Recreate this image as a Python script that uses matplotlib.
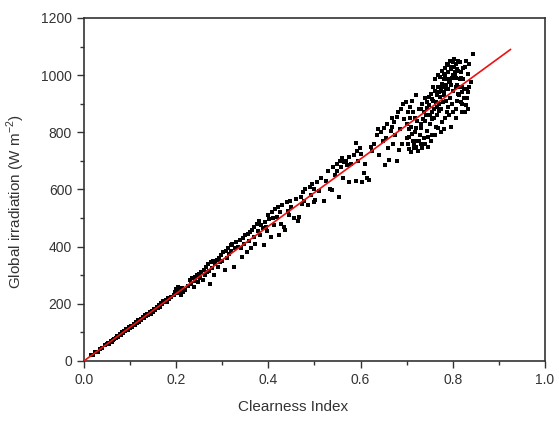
import numpy as np
import matplotlib
matplotlib.use('Agg')
import matplotlib.pyplot as plt
from matplotlib.ticker import MultipleLocator, FormatStrFormatter

plt.rcParams['font.family'] = ['Liberation Sans', 'DejaVu Sans']

# clearness index / global irradiation pairs
kt = [0.015, 0.02, 0.025, 0.03, 0.035, 0.04, 0.045, 0.05, 0.052, 0.055, 0.058, 0.06, 0.063, 0.066, 0.07, 0.072,
      0.075, 0.078, 0.08, 0.082, 0.085, 0.087, 0.09, 0.092, 0.095, 0.097, 0.1, 0.102, 0.105, 0.108, 0.11, 0.112,
      0.115, 0.118, 0.12, 0.123, 0.125, 0.128, 0.13, 0.133, 0.135, 0.138, 0.14, 0.143, 0.145, 0.148, 0.15, 0.152,
      0.155, 0.158, 0.16, 0.162, 0.165, 0.167, 0.17, 0.172, 0.175, 0.178, 0.18, 0.183, 0.185, 0.19, 0.195, 0.198,
      0.2, 0.202, 0.205, 0.208, 0.21, 0.212, 0.215,
      0.22, 0.225, 0.23, 0.232, 0.235, 0.238, 0.24, 0.242, 0.245, 0.248, 0.25, 0.252, 0.255, 0.258, 0.26, 0.262,
      0.265, 0.268, 0.27, 0.272, 0.274, 0.275, 0.278, 0.28, 0.282, 0.285, 0.288, 0.29, 0.292, 0.295, 0.298, 0.3,
      0.302, 0.305, 0.308, 0.31, 0.312, 0.315, 0.318, 0.32, 0.322, 0.325, 0.328, 0.33, 0.335, 0.338, 0.34, 0.343,
      0.345, 0.348, 0.35, 0.353, 0.355, 0.358, 0.36, 0.362, 0.365, 0.368, 0.37, 0.372, 0.375, 0.378, 0.38, 0.382,
      0.385, 0.388, 0.39, 0.392, 0.395, 0.398, 0.4,
      0.402, 0.405, 0.408, 0.41, 0.412, 0.415, 0.418, 0.42, 0.423, 0.425, 0.428, 0.43, 0.433, 0.436, 0.44, 0.443,
      0.445, 0.448, 0.45, 0.455, 0.46, 0.465, 0.467, 0.47, 0.473, 0.475, 0.478, 0.48, 0.485, 0.49, 0.492, 0.495,
      0.498, 0.5, 0.502, 0.505, 0.51, 0.515, 0.52, 0.525, 0.53, 0.533, 0.537, 0.54, 0.545, 0.548, 0.55, 0.553,
      0.555, 0.558, 0.56, 0.563, 0.565, 0.568, 0.57, 0.575, 0.58, 0.585, 0.59, 0.593, 0.595, 0.598, 0.6,
      0.575, 0.59, 0.603, 0.607, 0.61, 0.615, 0.619, 0.622,
      0.625, 0.63, 0.635, 0.638, 0.64, 0.645, 0.648, 0.65, 0.653, 0.655, 0.658, 0.66, 0.661, 0.665, 0.668, 0.669,
      0.67, 0.672, 0.675, 0.678, 0.68, 0.682, 0.684, 0.686, 0.688, 0.69, 0.692, 0.695, 0.698, 0.7, 0.702, 0.705,
      0.708, 0.71, 0.712, 0.715, 0.718, 0.72,
      0.7, 0.702, 0.705, 0.707, 0.71, 0.712, 0.714, 0.716, 0.718, 0.72, 0.722, 0.724, 0.726, 0.728, 0.73, 0.732,
      0.734, 0.736, 0.738, 0.74, 0.742, 0.744, 0.746, 0.748, 0.75, 0.752, 0.754, 0.756, 0.758, 0.76, 0.762, 0.764,
      0.766, 0.768, 0.77, 0.772, 0.774, 0.776, 0.778, 0.78, 0.781, 0.782, 0.784, 0.786, 0.788, 0.79, 0.792, 0.794,
      0.796, 0.797, 0.798, 0.8, 0.802, 0.804, 0.806, 0.808, 0.81, 0.812, 0.814, 0.816, 0.818, 0.82, 0.822, 0.824,
      0.826, 0.828, 0.83, 0.832, 0.834, 0.836, 0.84, 0.843,
      0.745, 0.755, 0.765, 0.775, 0.785, 0.795, 0.805, 0.815, 0.8, 0.79, 0.78, 0.77, 0.76, 0.75, 0.74, 0.73,
      0.72, 0.79, 0.8, 0.81, 0.82, 0.77, 0.78, 0.79, 0.8, 0.81, 0.785, 0.775, 0.765, 0.755,
      0.762, 0.768, 0.772, 0.776, 0.783, 0.787, 0.793, 0.798, 0.803, 0.807, 0.811, 0.813, 0.817, 0.819, 0.823, 0.827,
      0.829, 0.831, 0.835, 0.821, 0.808, 0.799, 0.791, 0.784, 0.777, 0.769, 0.761, 0.753, 0.747, 0.739, 0.733, 0.727,
      0.721, 0.713, 0.706, 0.731, 0.737, 0.743, 0.749, 0.757, 0.763, 0.771, 0.779, 0.789, 0.797, 0.806, 0.812, 0.818,
      0.825, 0.833]

irr = [20, 22, 30, 33, 42, 45, 55, 58, 62, 60, 70, 66, 75, 78, 82, 88,
       85, 95, 92, 100, 98, 106, 104, 112, 108, 118, 115, 122, 120, 130, 126, 135,
       132, 142, 138, 148, 144, 155, 150, 160, 156, 165, 162, 170, 166, 176, 172, 182,
       178, 188, 185, 195, 190, 203, 198, 210, 205, 215, 208, 222, 216, 225, 230, 242,
       252, 238, 258, 245, 232, 255, 240,
       250, 262, 285, 270, 290, 260, 295, 280, 300, 275, 305, 290, 310, 283, 320, 300,
       330, 310, 340, 315, 271, 345, 325, 350, 300, 338, 355, 330, 362, 345, 370, 350,
       380, 320, 385, 360, 395, 375, 405, 385, 410, 330, 395, 415, 400, 425, 395, 365,
       430, 410, 440, 380, 445, 420, 450, 395, 460, 435, 470, 410, 480, 455, 490, 440,
       475, 465, 405, 485, 470, 455, 510,
       495, 435, 520, 500, 475, 530, 505, 540, 440, 520, 480, 545, 470, 458, 555, 525,
       510, 560, 540, 500, 565, 490, 504, 575, 550, 590, 560, 600, 545, 610, 580, 620,
       555, 600, 563, 625, 595, 640, 560, 630, 665, 600, 598, 680, 650, 690, 665, 574,
       700, 680, 710, 640, 695, 700, 685, 715, 690, 720, 761, 735, 700, 745, 725,
       625, 630, 627, 656, 690, 640, 633, 749,
       735, 760, 790, 813, 720, 800, 770, 815, 685, 780, 830, 745, 702, 805, 850, 819,
       760, 835, 790, 855, 700, 870, 737, 810, 880, 760, 900, 845, 905, 780, 870, 740,
       890, 820, 910, 760, 850, 930,
       830, 760, 810, 850, 730, 795, 870, 745, 800, 770, 840, 735, 880, 790, 815, 760,
       900, 845, 780, 920, 860, 805, 750, 895, 830, 935, 870, 790, 910, 850, 945, 820,
       890, 960, 875, 925, 800, 970, 905, 985, 813, 940, 1000, 955, 870, 1010, 975, 920,
       1020, 819, 990, 945, 1030, 1000, 880, 1040, 965, 1015, 930, 1045, 990, 900, 1025, 950,
       870, 1050, 920, 883, 1005, 960, 976, 1075,
       905, 915, 930, 945, 965, 980, 1010, 985, 1000, 950, 930, 900, 880, 860, 840, 830,
       815, 890, 870, 910, 960, 960, 1005, 1035, 1045, 1020, 910, 880, 860, 845,
       985, 1000, 995, 1015, 1025, 1040, 1050, 1030, 1055, 990, 1050, 960, 1010, 940, 985, 1030,
       895, 950, 1040, 870, 850, 900, 860, 850, 835, 815, 790, 770, 785, 760, 745, 770,
       750, 770, 785, 880, 870, 885, 925, 960, 905, 940, 960, 985, 965, 960, 935, 905,
       920, 940]

# linear fit shown in red
fit_slope = 1178.0
fit_x = [0.0, 0.925]

fig = plt.figure(figsize=(5.59, 4.23), dpi=100)
ax = fig.add_axes([0.150, 0.1466, 0.825, 0.8109])

ax.scatter(kt, irr, s=12, marker='s', color='black', linewidths=0, zorder=2)
ax.plot(fit_x, [fit_slope * v for v in fit_x], color='#ee1111', lw=1.2, zorder=3)

ax.set_xlim(0, 1.0)
ax.set_ylim(0, 1200)
ax.xaxis.set_major_locator(MultipleLocator(0.2))
ax.xaxis.set_minor_locator(MultipleLocator(0.1))
ax.xaxis.set_major_formatter(FormatStrFormatter('%.1f'))
ax.yaxis.set_major_locator(MultipleLocator(200))
ax.yaxis.set_minor_locator(MultipleLocator(100))

ax.tick_params(which='both', direction='out', top=False, right=False, colors='#333333',
               labelsize=10, width=1.0)
ax.tick_params(which='major', length=5)
ax.tick_params(which='minor', length=3)
for sp in ax.spines.values():
    sp.set_color('#333333')
    sp.set_linewidth(1.2)

ax.set_xlabel('Clearness Index', fontsize=11, color='#333333')
ax.set_ylabel('Global irradiation (W m$^{\\mathregular{-2}}$)', fontsize=11, color='#333333')
ax.xaxis.set_label_coords(0.453, -0.115)
ax.yaxis.set_label_coords(-0.124, 0.464)

fig.savefig('out.png', dpi=100)
